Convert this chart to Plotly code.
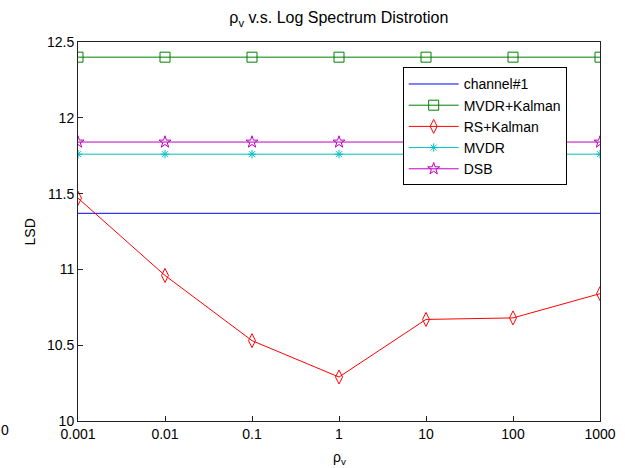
import plotly.graph_objects as go

x_vals = [0.001, 0.01, 0.1, 1, 10, 100, 1000]
x_labels = ["0.001", "0.01", "0.1", "1", "10", "100", "1000"]
channel1 = [11.37] * 7
mvdr_kalman = [12.40] * 7
rs_kalman = [11.47, 10.96, 10.53, 10.29, 10.67, 10.68, 10.84]
mvdr = [11.76] * 7
dsb = [11.84] * 7
y_ticks = [10, 10.5, 11, 11.5, 12, 12.5]
y_labels = ["10", "10.5", "11", "11.5", "12", "12.5"]

FONT = "Liberation Sans, Arial, sans-serif"

fig = go.Figure()
fig.add_trace(go.Scatter(x=x_vals, y=channel1, mode="lines", name="channel#1",
                         line=dict(color="#0000ff", width=1)))
fig.add_trace(go.Scatter(x=x_vals, y=mvdr_kalman, mode="lines+markers", name="MVDR+Kalman",
                         line=dict(color="#008000", width=1),
                         marker=dict(symbol="square-open", size=10, color="#008000", line=dict(width=1))))
fig.add_trace(go.Scatter(x=x_vals, y=rs_kalman, mode="lines+markers", name="RS+Kalman",
                         line=dict(color="#ff0000", width=1),
                         marker=dict(symbol="diamond-tall-open", size=10, color="#ff0000", line=dict(width=1))))
fig.add_trace(go.Scatter(x=x_vals, y=mvdr, mode="lines+markers", name="MVDR",
                         line=dict(color="#00bfbf", width=1),
                         marker=dict(symbol="asterisk-open", size=7, color="#00bfbf", line=dict(width=1, color="#00bfbf"))))
fig.add_trace(go.Scatter(x=x_vals, y=dsb, mode="lines+markers", name="DSB",
                         line=dict(color="#bf00bf", width=1),
                         marker=dict(symbol="star-open", size=9, color="#bf00bf", line=dict(width=1))))

fig.update_layout(
    width=625, height=468,
    margin=dict(l=78, r=25, t=42, b=47),
    paper_bgcolor="white", plot_bgcolor="white",
    font=dict(family=FONT, size=14, color="#000"),
    title=dict(text="ρ<sub>v</sub> v.s. Log Spectrum Distrotion", x=0.5421, xanchor="center",
               y=0.962, yanchor="middle", font=dict(size=16, family=FONT)),
    showlegend=True,
    legend=dict(x=0.622, y=0.933, xanchor="left", yanchor="top",
                bgcolor="white", bordercolor="#000", borderwidth=1,
                font=dict(size=14, family=FONT), tracegroupgap=0,
                itemwidth=50),
    xaxis=dict(type="log", range=[-3, 3], tickvals=x_vals, ticktext=x_labels,
               showgrid=False, zeroline=False, showline=True, linecolor="#222", mirror=True,
               ticks="inside", ticklen=5, tickcolor="#222", automargin=False,
               tickfont=dict(size=14, family=FONT)),
    yaxis=dict(range=[10, 12.5], tickvals=y_ticks, ticktext=y_labels,
               showgrid=False, zeroline=False, showline=True, linecolor="#222", mirror=True,
               ticks="inside", ticklen=5, tickcolor="#222", automargin=False,
               tickfont=dict(size=14, family=FONT)),
)
fig.add_annotation(text="ρ<sub>v</sub>", xref="paper", yref="paper", x=0.5, y=-0.098,
                   xanchor="center", yanchor="middle", showarrow=False,
                   font=dict(size=14, family=FONT))
fig.add_annotation(text="LSD", xref="paper", yref="paper", x=-0.092, y=0.5,
                   xanchor="center", yanchor="middle", showarrow=False, textangle=-90,
                   font=dict(size=14, family=FONT))
fig.add_annotation(text="0", xref="paper", yref="paper", x=-0.14, y=-0.024,
                   xanchor="center", yanchor="middle", showarrow=False,
                   font=dict(size=14, family=FONT))
fig.write_html("out.html")
